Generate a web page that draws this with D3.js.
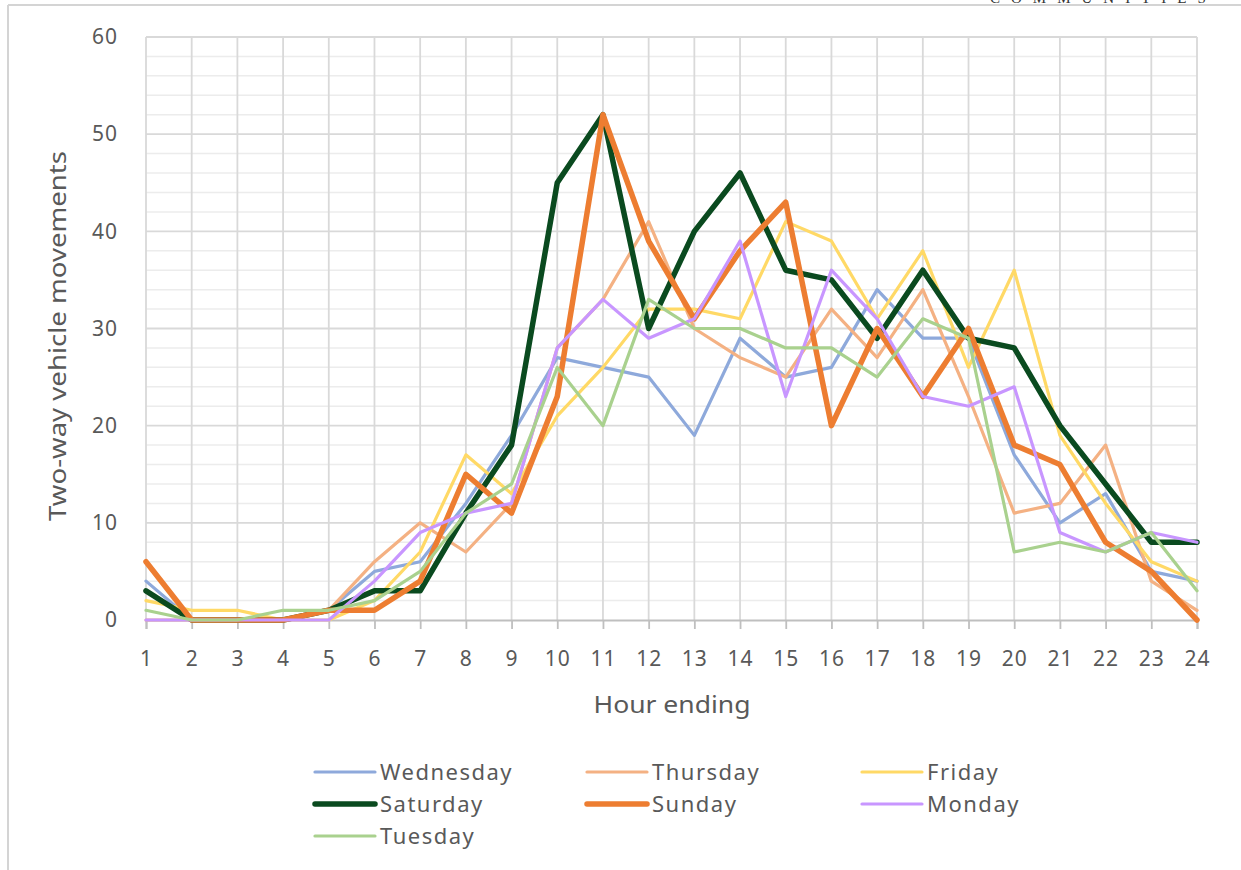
<!DOCTYPE html>
<html>
<head>
<meta charset="utf-8">
<script src="https://cdn.jsdelivr.net/npm/d3@7"></script>
<style>
body { margin: 0; background: #fff; }
text { font-family: "Noto Sans", "Open Sans", sans-serif; fill: #595959; }
</style>
</head>
<body>
<svg id="chart" width="1241" height="870"></svg>
<script>
// hours 1..24 (hour ending)
var hours = d3.range(1, 25);
var yTicks = [0, 10, 20, 30, 40, 50, 60];

var wednesday = [4, 0, 0, 0, 1, 5, 6, 12, 19, 27, 26, 25, 19, 29, 25, 26, 34, 29, 29, 17, 10, 13, 5, 4];
var thursday  = [0, 0, 0, 0, 1, 6, 10, 7, 12, 28, 33, 41, 30, 27, 25, 32, 27, 34, 23, 11, 12, 18, 4, 1];
var friday    = [2, 1, 1, 0, 0, 2, 7, 17, 13, 21, 26, 32, 32, 31, 41, 39, 31, 38, 26, 36, 19, 12, 6, 4];
var saturday  = [3, 0, 0, 0, 1, 3, 3, 11, 18, 45, 52, 30, 40, 46, 36, 35, 29, 36, 29, 28, 20, 14, 8, 8];
var sunday    = [6, 0, 0, 0, 1, 1, 4, 15, 11, 23, 52, 39, 31, 38, 43, 20, 30, 23, 30, 18, 16, 8, 5, 0];
var monday    = [0, 0, 0, 0, 0, 4, 9, 11, 12, 28, 33, 29, 31, 39, 23, 36, 31, 23, 22, 24, 9, 7, 9, 8];
var tuesday   = [1, 0, 0, 1, 1, 2, 5, 11, 14, 26, 20, 33, 30, 30, 28, 28, 25, 31, 29, 7, 8, 7, 9, 3];

var seriesNames  = ["Wednesday", "Thursday", "Friday", "Saturday", "Sunday", "Monday", "Tuesday"];
var seriesValues = [wednesday, thursday, friday, saturday, sunday, monday, tuesday];
var seriesColors = ["#8EA9DB", "#F4B183", "#FFD966", "#0A4A1F", "#ED7D31", "#C896FF", "#A9D18E"];
var seriesWidths = [3.2, 3.2, 3.2, 5.5, 5.5, 3.2, 3.2];

var svg = d3.select("#chart");

// outer frame (left + top edges of the cropped figure)
svg.append("line").attr("x1", 8).attr("x2", 1241).attr("y1", 5).attr("y2", 5)
    .attr("stroke", "#d4d4d4").attr("stroke-width", 2);
svg.append("line").attr("x1", 8).attr("x2", 8).attr("y1", 5).attr("y2", 870)
    .attr("stroke", "#d4d4d4").attr("stroke-width", 2);
// cropped header word at the very top
svg.append("text").attr("x", 990).attr("y", 3)
    .style("font-family", "'Liberation Serif', serif").style("font-size", "15px")
    .style("letter-spacing", "11px").style("fill", "#333")
    .text("COMMUNITIES");

var plotLeft = 146, plotRight = 1197, plotTop = 37, plotBottom = 620;

var x = d3.scaleLinear().domain([1, 24]).range([plotLeft, plotRight]);
var y = d3.scaleLinear().domain([0, 60]).range([plotBottom, plotTop]);

// minor gridlines
svg.append("g").selectAll("line")
    .data(d3.range(2, 60, 2).filter(function(d){ return d % 10 != 0; }))
    .enter().append("line")
    .attr("x1", plotLeft).attr("x2", plotRight)
    .attr("y1", function(d){ return y(d); }).attr("y2", function(d){ return y(d); })
    .attr("stroke", "#ececec").attr("stroke-width", 1.5);

// major gridlines
svg.append("g").selectAll("line")
    .data(yTicks.slice(1))
    .enter().append("line")
    .attr("x1", plotLeft).attr("x2", plotRight)
    .attr("y1", function(d){ return y(d); }).attr("y2", function(d){ return y(d); })
    .attr("stroke", "#d9d9d9").attr("stroke-width", 1.8);

// vertical gridlines
svg.append("g").selectAll("line")
    .data(hours)
    .enter().append("line")
    .attr("x1", function(d){ return x(d); }).attr("x2", function(d){ return x(d); })
    .attr("y1", plotTop).attr("y2", plotBottom)
    .attr("stroke", "#d9d9d9").attr("stroke-width", 1.8);

// x axis
var xAxis = d3.axisBottom(x).tickValues(hours).tickSize(9).tickPadding(22).tickFormat(d3.format("d"));
var gx = svg.append("g").attr("transform", "translate(0," + plotBottom + ")").call(xAxis);
gx.select(".domain").attr("stroke", "#bfbfbf").attr("stroke-width", 2);
gx.selectAll(".tick line").attr("stroke", "#bfbfbf").attr("stroke-width", 1.8);
gx.selectAll(".tick text").style("font-size", "21px").style("letter-spacing", "1px").style("fill", "#595959");

// y axis
var yAxis = d3.axisLeft(y).tickValues(yTicks).tickSize(0).tickPadding(28);
var gy = svg.append("g").attr("transform", "translate(" + plotLeft + ",0)").call(yAxis);
gy.select(".domain").remove();
gy.selectAll(".tick text").style("font-size", "21px").style("letter-spacing", "1px").style("fill", "#595959");

// axis titles
svg.append("text")
    .attr("x", 672).attr("y", 713)
    .attr("text-anchor", "middle")
    .attr("textLength", 157).attr("lengthAdjust", "spacingAndGlyphs")
    .style("font-size", "23px")
    .text("Hour ending");

svg.append("text")
    .attr("transform", "translate(66,336) rotate(-90)")
    .attr("text-anchor", "middle")
    .attr("textLength", 370).attr("lengthAdjust", "spacingAndGlyphs")
    .style("font-size", "23px")
    .text("Two-way vehicle movements");

// series lines
var line = d3.line()
    .x(function(d, i){ return x(hours[i]); })
    .y(function(d){ return y(d); });

svg.append("g").selectAll("path")
    .data(seriesValues)
    .enter().append("path")
    .attr("d", function(d){ return line(d); })
    .attr("fill", "none")
    .attr("stroke", function(d, i){ return seriesColors[i]; })
    .attr("stroke-width", function(d, i){ return seriesWidths[i]; })
    .attr("stroke-linejoin", "round")
    .attr("stroke-linecap", "round");

// legend
var legendCols = [315, 587, 862];
var legendRows = [772, 804, 836];
var legend = svg.append("g").selectAll("g")
    .data(seriesNames)
    .enter().append("g")
    .attr("transform", function(d, i){
        return "translate(" + legendCols[i % 3] + "," + legendRows[Math.floor(i / 3)] + ")";
    });
legend.append("line")
    .attr("x1", 0).attr("x2", 60).attr("y1", 0).attr("y2", 0)
    .attr("stroke", function(d, i){ return seriesColors[i]; })
    .attr("stroke-width", function(d, i){ return seriesWidths[i]; })
    .attr("stroke-linecap", "round");
legend.append("text")
    .attr("x", 65).attr("y", 0).attr("dy", "0.35em")
    .style("font-size", "22px")
    .style("letter-spacing", "1.5px")
    .text(function(d){ return d; });
</script>
</body>
</html>
